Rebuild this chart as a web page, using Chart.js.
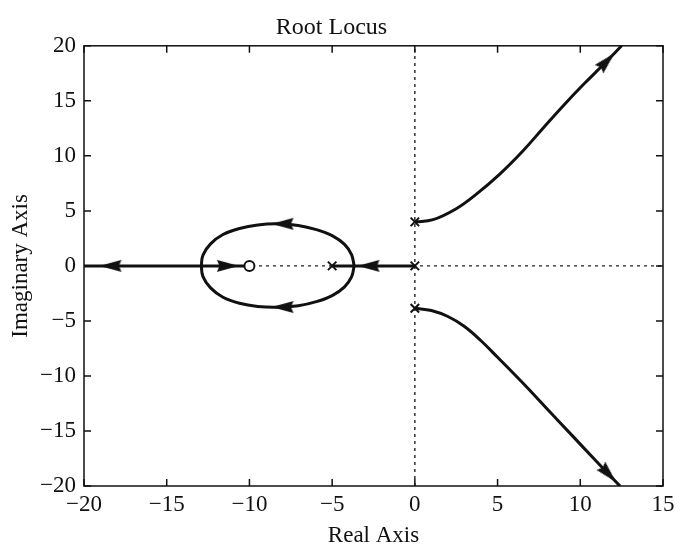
<!DOCTYPE html>
<html>
<head>
<meta charset="utf-8">
<script src="https://cdn.jsdelivr.net/npm/chart.js@4/dist/chart.umd.min.js"></script>
<style>
  html, body { margin: 0; padding: 0; background: #fff; }
  #wrap { width: 690px; height: 550px; position: relative; }
</style>
</head>
<body>
<div id="wrap"><canvas id="locus"></canvas></div>
<script>
(() => {
    // axis limits and ticks
    const xLimits = [-20, 15];
    const yLimits = [-20, 20];
    const tickStep = 5;

    // dotted axis lines through the origin
    const realAxisLine = [[-20, 0], [15, 0]];
    const imagAxisLine = [[0, -20], [0, 20]];

    // branches on the real axis
    const leftRealBranch = [[-20, 0], [-12.9, 0]];
    const zeroRealBranch = [[-12.9, 0], [-10, 0]];
    const innerRealBranch = [[-5, 0], [0, 0]];

    // the closed loop between breakaway and break-in points
    const loopBranch = [
        [-3.67, 0], [-3.82, 1.0], [-4.25, 1.95], [-5.0, 2.75], [-5.95, 3.3],
        [-7.05, 3.68], [-8.3, 3.82], [-9.5, 3.72], [-10.6, 3.4], [-11.6, 2.85],
        [-12.35, 2.0], [-12.8, 1.0], [-12.9, 0], [-12.8, -1.0], [-12.35, -2.0],
        [-11.6, -2.85], [-10.6, -3.4], [-9.5, -3.68], [-8.3, -3.75], [-7.05, -3.62],
        [-5.95, -3.25], [-5.0, -2.7], [-4.25, -1.9], [-3.82, -0.98], [-3.67, 0],
    ];

    // complex branches leaving the poles near +-4j
    const upperBranch = [
        [0, 4.0], [1.1, 4.2], [2.5, 5.2], [3.7, 6.5], [5.1, 8.3], [6.5, 10.4],
        [7.8, 12.6], [9, 14.6], [10.2, 16.5], [11.4, 18.3], [12.5, 20],
    ];
    const lowerBranch = [
        [0, -3.85], [1, -4.05], [2, -4.6], [3, -5.5], [4, -6.8], [5, -8.3],
        [6.5, -10.6], [8, -13.0], [9.5, -15.4], [11, -17.8], [12.4, -20],
    ];

    const poles = [[0, 0], [-5, 0], [0, 4.0], [0, -3.85]];
    const zeros = [[-10, 0]];

    // arrowheads: position and heading (data units)
    const arrowPoints = [[-18.4, 0], [-11.3, 0], [-2.8, 0], [-8.0, 3.82], [-8.0, -3.74], [11.6, 18.6], [11.7, -18.9]];
    const arrowHeadings = [[-1, 0], [1, 0], [-1, 0], [-1, 0], [-1, 0], [1, 1.55], [1, -1.6]];

    const FONT = "'Liberation Serif', 'DejaVu Serif', serif";
    const toXY = (pts) => pts.map(([x, y]) => ({ x, y }));
    const minus = (v) => String(v).replace("-", "\u2212");

    function makeArrowHead() {
        const c = document.createElement("canvas");
        c.width = 26;
        c.height = 26;
        const g = c.getContext("2d");
        g.fillStyle = "#111";
        g.beginPath();
        g.moveTo(13, 2);
        g.lineTo(19, 24);
        g.lineTo(13, 21.5);
        g.lineTo(7, 24);
        g.closePath();
        g.fill();
        return c;
    }
    const arrowHead = makeArrowHead();

    const line = (pts, extra) => ({
        data: toXY(pts),
        showLine: true,
        borderColor: "#111",
        borderWidth: 3,
        pointRadius: 0,
        tension: 0,
        order: 5,
        ...extra,
    });

    const dotted = (pts) => ({
        data: toXY(pts),
        showLine: true,
        borderColor: "#222",
        borderWidth: 1.4,
        borderDash: [3, 4],
        pointRadius: 0,
        order: 10,
    });

    // inward tick marks on all four sides plus the box
    const frame = {
        id: "frame",
        afterDatasetsDraw(chart) {
            const { ctx, chartArea: a, scales: { x, y } } = chart;
            const len = 7;
            ctx.save();
            ctx.strokeStyle = "#111";
            ctx.lineWidth = 1.5;
            ctx.strokeRect(a.left, a.top, a.right - a.left, a.bottom - a.top);
            ctx.beginPath();
            x.ticks.forEach((t) => {
                const px = x.getPixelForValue(t.value);
                ctx.moveTo(px, a.bottom);
                ctx.lineTo(px, a.bottom - len);
                ctx.moveTo(px, a.top);
                ctx.lineTo(px, a.top + len);
            });
            y.ticks.forEach((t) => {
                const py = y.getPixelForValue(t.value);
                ctx.moveTo(a.left, py);
                ctx.lineTo(a.left + len, py);
                ctx.moveTo(a.right, py);
                ctx.lineTo(a.right - len, py);
            });
            ctx.stroke();
            ctx.restore();
        },
    };

    new Chart(document.getElementById("locus"), {
        type: "scatter",
        data: {
            datasets: [
                dotted(realAxisLine),
                dotted(imagAxisLine),
                line(leftRealBranch),
                line(zeroRealBranch),
                line(innerRealBranch),
                line(loopBranch, { tension: 0.35 }),
                line(upperBranch, { tension: 0.4 }),
                line(lowerBranch, { tension: 0.4 }),
                {
                    data: toXY(arrowPoints),
                    pointStyle: arrowHead,
                    pointRadius: 11,
                    rotation: (ctx) => {
                        const c = ctx.chart;
                        const [x0, y0] = arrowPoints[ctx.dataIndex];
                        const [dx, dy] = arrowHeadings[ctx.dataIndex];
                        const px = c.scales.x.getPixelForValue(x0 + dx) - c.scales.x.getPixelForValue(x0);
                        const py = c.scales.y.getPixelForValue(y0 + dy) - c.scales.y.getPixelForValue(y0);
                        return Math.atan2(px, -py) * 180 / Math.PI;
                    },
                    order: 1,
                },
                {
                    data: toXY(poles),
                    pointStyle: "crossRot",
                    pointRadius: 6,
                    borderColor: "#111",
                    borderWidth: 2,
                    order: 1,
                },
                {
                    data: toXY(zeros),
                    pointStyle: "circle",
                    pointRadius: 5,
                    backgroundColor: "#fff",
                    borderColor: "#111",
                    borderWidth: 2,
                    order: 1,
                },
            ],
        },
        options: {
            responsive: true,
            maintainAspectRatio: false,
            animation: false,
            events: [],
            layout: { padding: { left: 0, right: 27, top: 0, bottom: 0 } },
            plugins: {
                legend: { display: false },
                tooltip: { enabled: false },
                title: {
                    display: true,
                    text: "Root Locus",
                    color: "#111",
                    font: { family: FONT, size: 24, weight: "normal" },
                    padding: { top: 13, bottom: 4 },
                },
            },
            scales: {
                x: {
                    type: "linear",
                    min: xLimits[0],
                    max: xLimits[1],
                    afterFit: (s) => { s.height = 64; },
                    grid: { display: false, drawTicks: false },
                    border: { display: false },
                    ticks: {
                        stepSize: tickStep,
                        color: "#111",
                        padding: 5,
                        maxRotation: 0,
                        font: { family: FONT, size: 23 },
                        callback: minus,
                    },
                    title: {
                        display: true,
                        text: "Real Axis",
                        color: "#111",
                        font: { family: FONT, size: 23 },
                        padding: { top: 0, bottom: 0 },
                    },
                },
                y: {
                    type: "linear",
                    min: yLimits[0],
                    max: yLimits[1],
                    afterFit: (s) => { s.width = 84; },
                    grid: { display: false, drawTicks: false },
                    border: { display: false },
                    ticks: {
                        stepSize: tickStep,
                        color: "#111",
                        padding: 8,
                        font: { family: FONT, size: 23 },
                        callback: minus,
                    },
                    title: {
                        display: true,
                        text: "Imaginary Axis",
                        color: "#111",
                        font: { family: FONT, size: 23 },
                        padding: { top: 7, bottom: 0 },
                    },
                },
            },
        },
        plugins: [frame],
    });
})();
</script>
</body>
</html>
